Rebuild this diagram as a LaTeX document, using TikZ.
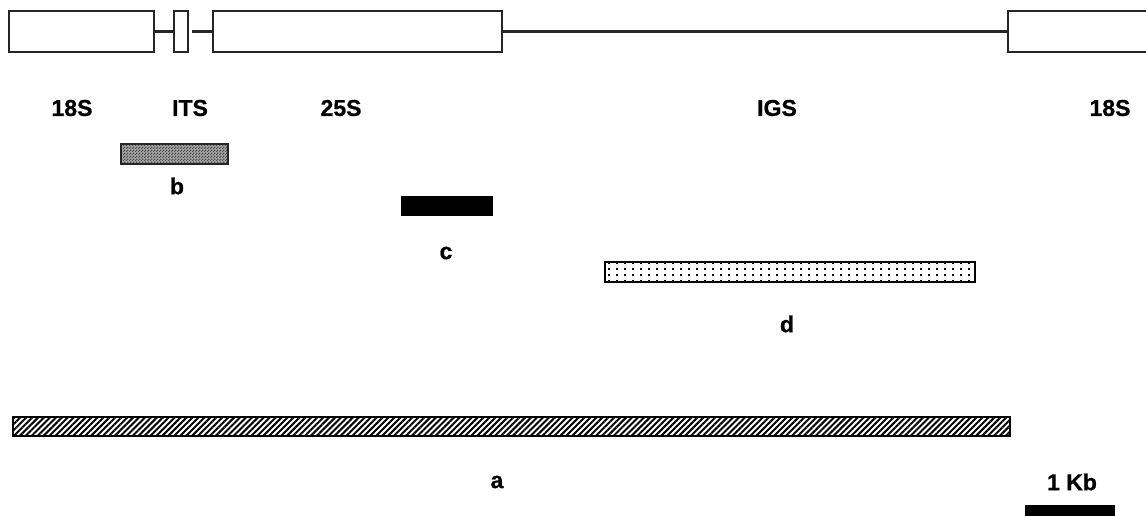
\documentclass[tikz,border=0pt]{standalone}
\usepackage{fontspec}
\setmainfont{Liberation Sans}[BoldFeatures={FakeBold=0.8}]
\usetikzlibrary{patterns.meta}
\tikzdeclarepattern{name=checkdots, type=uncolored,
  bounding box={(0pt,0pt) and (3pt,3pt)}, tile size={(3pt,3pt)},
  code={\fill (0pt,0pt) rectangle (1.5pt,1.5pt); \fill (1.5pt,1.5pt) rectangle (3pt,3pt);}}
\tikzdeclarepattern{name=sparsedots, type=uncolored,
  bounding box={(0pt,0pt) and (8pt,6pt)}, tile size={(8pt,6pt)},
  code={\fill (0pt,0pt) rectangle (2pt,2pt);}}
\tikzset{
  genebox/.style={draw=black!85, line width=2.8pt, fill=white, inner sep=0pt, minimum height=41pt},
  spacer/.style={draw=black!85, line width=2.2pt},
  lbl/.style={font=\bfseries\fontsize{23}{23}\selectfont, inner sep=0pt, anchor=center},
  barb/.style={draw=black!85, line width=1.6pt, preaction={fill=black!35}, pattern={checkdots}, pattern color=black!70, inner sep=0pt, minimum height=20pt},
  barc/.style={fill=black, inner sep=0pt, minimum height=20pt},
  bard/.style={draw=black, line width=2.8pt, preaction={fill=white}, pattern={sparsedots}, pattern color=black, inner sep=0pt, minimum height=20pt},
  bara/.style={draw=black, line width=2pt, preaction={fill=white}, pattern={Lines[angle=45, distance=4.2pt, line width=2pt]}, pattern color=black, inner sep=0pt, minimum height=19pt},
}
\begin{document}
\begin{tikzpicture}[x=1pt, y=-1pt]
\useasboundingbox (0,0) rectangle (1146,515);
\clip (0,0) rectangle (1146,515);
% rDNA unit
\node[genebox, minimum width=145pt] (s18a) at (81.5,31.5) {};
\node[genebox, minimum width=14pt] (its) at (181,31.5) {};
\node[genebox, minimum width=289pt] (s25) at (357.5,31.5) {};
\node[genebox, minimum width=192pt] (s18b) at (1104,31.5) {};
\draw[spacer] (s18a.east) -- (its.west);
\draw[spacer] ([xshift=3pt]its.east) -- (s25.west);
\draw[spacer] (s25.east) -- (s18b.west);
% labels
\node[lbl] (l18a) at (72,108) {18S};
\node[lbl] (lits) at (190,108) {ITS};
\node[lbl] (l25) at (341,108) {25S};
\node[lbl] (ligs) at (777,108) {IGS};
\node[lbl] (l18b) at (1110,108) {18S};
% probes
\node[barb, minimum width=107pt] (b) at (174.5,154) {};
\node[lbl] (lb) at (177,186) {b};
\node[barc, minimum width=92pt] (c) at (447,206) {};
\node[lbl] (lc) at (446,253) {c};
\node[bard, minimum width=370pt] (d) at (790,272) {};
\node[lbl] (ld) at (787,324) {d};
\node[bara, minimum width=997pt] (a) at (511.5,426.5) {};
\node[lbl] (la) at (497,482) {a};
% scale bar
\node[lbl] (kb) at (1072,482) {1 Kb};
\node[fill=black, inner sep=0pt, minimum width=90pt, minimum height=14pt] (scale) at (1070,512) {};
\end{tikzpicture}
\end{document}
